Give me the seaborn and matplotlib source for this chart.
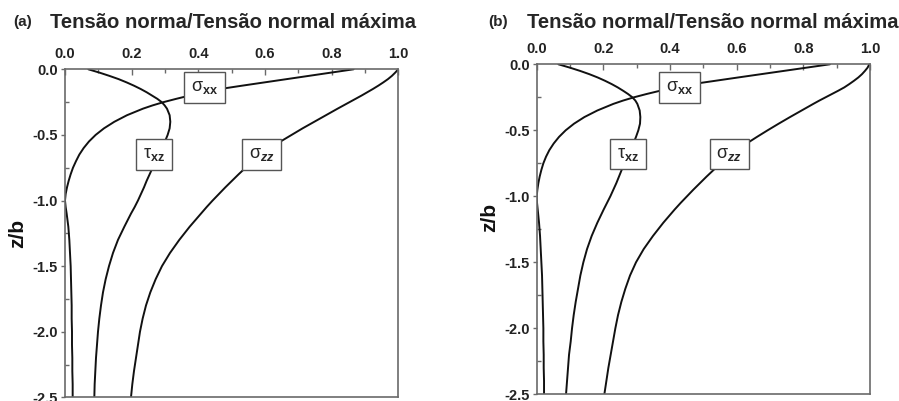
import matplotlib
matplotlib.use("Agg")
import matplotlib.pyplot as plt
from matplotlib.ticker import MultipleLocator
import seaborn as sns
import pandas as pd

sns.set_theme(style="white")
plt.rcParams["font.family"] = ["Liberation Sans", "DejaVu Sans"]
plt.rcParams["mathtext.fontset"] = "custom"
plt.rcParams["mathtext.rm"] = "Liberation Sans"
plt.rcParams["mathtext.it"] = "Liberation Sans:italic:bold"
plt.rcParams["mathtext.bf"] = "Liberation Sans:bold"

# depth below the surface, z/b
depth = [0.0, -0.025, -0.05, -0.075, -0.1, -0.125, -0.15, -0.175, -0.2, -0.225,
         -0.25, -0.275, -0.3, -0.35, -0.4, -0.45, -0.5, -0.55, -0.6, -0.65,
         -0.7, -0.75, -0.8, -0.85, -0.9, -0.95, -1.0, -1.05, -1.1, -1.2,
         -1.3, -1.4, -1.5, -1.6, -1.7, -1.8, -1.9, -2.0, -2.1, -2.2,
         -2.3, -2.4, -2.5]

# panel (a): stresses normalised by the maximum normal stress
sxx_a = [0.866, 0.799, 0.732, 0.665, 0.598, 0.531, 0.466, 0.418, 0.374, 0.334,
         0.296, 0.263, 0.234, 0.186, 0.148, 0.117, 0.092, 0.072, 0.056, 0.043,
         0.033, 0.024, 0.017, 0.011, 0.006, 0.002, 0.0, 0.002, 0.005, 0.010,
         0.013, 0.015, 0.017, 0.018, 0.019, 0.020, 0.020, 0.021, 0.021, 0.022,
         0.022, 0.023, 0.023]
txz_a = [0.070, 0.103, 0.133, 0.161, 0.185, 0.207, 0.227, 0.245, 0.261, 0.277,
         0.290, 0.299, 0.306, 0.314, 0.316, 0.314, 0.308, 0.300, 0.291, 0.281,
         0.272, 0.263, 0.254, 0.245, 0.237, 0.228, 0.219, 0.209, 0.198, 0.178,
         0.159, 0.144, 0.132, 0.122, 0.114, 0.108, 0.103, 0.099, 0.096, 0.093,
         0.091, 0.089, 0.088]
szz_a = [1.000, 0.991, 0.981, 0.969, 0.955, 0.940, 0.924, 0.907, 0.890, 0.872,
         0.854, 0.836, 0.818, 0.783, 0.748, 0.713, 0.680, 0.647, 0.617, 0.590,
         0.565, 0.542, 0.521, 0.501, 0.481, 0.462, 0.443, 0.425, 0.408, 0.374,
         0.343, 0.315, 0.291, 0.272, 0.256, 0.243, 0.233, 0.225, 0.219, 0.213,
         0.207, 0.202, 0.198]

# panel (b)
sxx_b = [0.880, 0.811, 0.742, 0.673, 0.604, 0.536, 0.468, 0.417, 0.371, 0.330,
         0.292, 0.259, 0.230, 0.182, 0.143, 0.112, 0.087, 0.067, 0.051, 0.038,
         0.028, 0.020, 0.014, 0.009, 0.005, 0.002, 0.0, 0.001, 0.003, 0.007,
         0.010, 0.012, 0.014, 0.016, 0.017, 0.018, 0.019, 0.020, 0.020, 0.021,
         0.021, 0.022, 0.022]
txz_b = [0.065, 0.099, 0.130, 0.158, 0.183, 0.205, 0.225, 0.243, 0.259, 0.274,
         0.287, 0.296, 0.302, 0.309, 0.311, 0.310, 0.305, 0.298, 0.290, 0.281,
         0.272, 0.264, 0.255, 0.247, 0.239, 0.230, 0.221, 0.211, 0.201, 0.182,
         0.165, 0.151, 0.140, 0.131, 0.124, 0.117, 0.111, 0.106, 0.102, 0.097,
         0.094, 0.091, 0.088]
szz_b = [0.998, 0.993, 0.985, 0.976, 0.965, 0.952, 0.938, 0.923, 0.905, 0.886,
         0.867, 0.848, 0.830, 0.795, 0.760, 0.726, 0.693, 0.661, 0.630, 0.602,
         0.576, 0.553, 0.531, 0.510, 0.490, 0.470, 0.451, 0.432, 0.414, 0.380,
         0.349, 0.321, 0.298, 0.280, 0.266, 0.254, 0.244, 0.236, 0.229, 0.222,
         0.215, 0.209, 0.203]

curve_labels = ["σ$_{\\mathbf{xx}}$", "τ$_{\\mathbf{xz}}$", "σ$_{zz}$"]
label_pos_a = [(0.42, -0.137), (0.266, -0.65), (0.59, -0.65)]
label_pos_b = [(0.428, -0.176), (0.273, -0.68), (0.578, -0.68)]

x_ticks = [0.0, 0.2, 0.4, 0.6, 0.8, 1.0]
y_ticks = [0.0, -0.5, -1.0, -1.5, -2.0, -2.5]

fig = plt.figure(figsize=(8.99, 4.01), dpi=100)
ax_a = fig.add_axes([0.0723, 0.0092, 0.3707, 0.8180])
ax_b = fig.add_axes([0.5970, 0.0167, 0.3707, 0.8230])

spine_color = "#6a6a6a"


def draw_panel(ax, curves, positions, ylabel_xy):
    for name, xs in curves.items():
        df = pd.DataFrame({"stress": xs, "depth": depth})
        sns.lineplot(data=df, x="stress", y="depth", sort=False, estimator=None,
                     color="#111111", linewidth=1.4, ax=ax)
    for text, (x, z) in zip(curve_labels, positions):
        ax.text(x, z, text, fontsize=13, ha="center", va="center", zorder=5,
                bbox=dict(boxstyle="square,pad=0.38", facecolor="white",
                          edgecolor="#555555", linewidth=1.0))
    ax.set_xlim(0.0, 1.0)
    ax.set_ylim(-2.5, 0.0)
    ax.xaxis.tick_top()
    ax.set_xticks(x_ticks)
    ax.set_xticklabels([f"{t:.1f}" for t in x_ticks])
    ax.set_yticks(y_ticks)
    ax.set_yticklabels([f"{t:.1f}" for t in y_ticks])
    ax.xaxis.set_minor_locator(MultipleLocator(0.1))
    ax.yaxis.set_minor_locator(MultipleLocator(0.25))
    ax.tick_params(axis="x", which="major", direction="in", length=4, width=1,
                   color=spine_color, pad=6, labelsize=10.5, top=True, bottom=False)
    ax.tick_params(axis="x", which="minor", direction="in", length=3, width=1,
                   color=spine_color, top=True, bottom=False)
    ax.tick_params(axis="y", which="major", direction="out", length=3, width=1,
                   color=spine_color, pad=2, labelsize=10.5, left=True)
    ax.tick_params(axis="y", which="minor", direction="in", length=3, width=1,
                   color=spine_color, left=True)
    for lab in ax.get_xticklabels() + ax.get_yticklabels():
        lab.set_fontweight("bold")
        lab.set_color("#222222")
    for sp in ax.spines.values():
        sp.set_color(spine_color)
        sp.set_linewidth(1.2)
    ax.set_xlabel("")
    ax.set_ylabel("z/b", fontsize=15, fontweight="bold", color="#111111")
    ax.yaxis.set_label_coords(*ylabel_xy)


draw_panel(ax_a, {"sxx": sxx_a, "txz": txz_a, "szz": szz_a}, label_pos_a, (-0.115, 0.5))
draw_panel(ax_b, {"sxx": sxx_b, "txz": txz_b, "szz": szz_b}, label_pos_b, (-0.112, 0.537))

fig.text(13 / 899, 1 - 22 / 401, "(a)", fontsize=11, fontweight="bold", va="center")
fig.text(50 / 899, 1 - 22 / 401, "Tensão norma/Tensão normal máxima",
         fontsize=14.6, fontweight="bold", va="center")
fig.text(488 / 899, 1 - 22 / 401, "(b)", fontsize=11, fontweight="bold", va="center")
fig.text(527 / 899, 1 - 22 / 401, "Tensão normal/Tensão normal máxima",
         fontsize=14.6, fontweight="bold", va="center")

fig.savefig("out.png", dpi=100, facecolor="white")
